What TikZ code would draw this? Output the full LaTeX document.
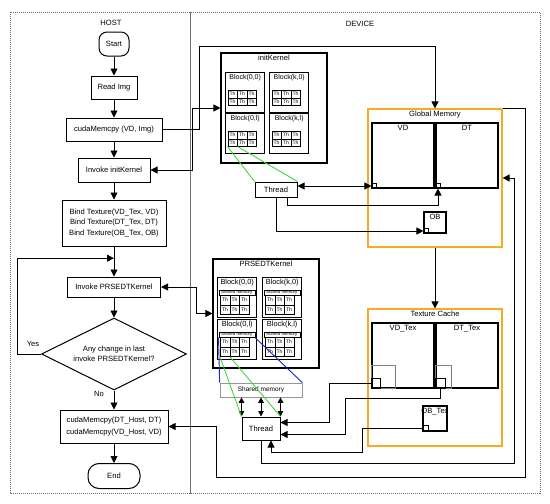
\documentclass[tikz,border=0pt]{standalone}
\usepackage{fontspec}
\setmainfont{Liberation Sans}
\usepackage{tikz}
\usetikzlibrary{arrows.meta,positioning,calc,shapes.geometric}
\definecolor{memorange}{RGB}{245,170,40}
\definecolor{thgreen}{RGB}{70,215,60}
\definecolor{shblue}{RGB}{30,40,190}
\definecolor{framegray}{RGB}{110,110,110}
\definecolor{shgray}{RGB}{150,150,150}

\tikzset{
  >={Triangle[length=7pt,width=7pt]},
  flowbox/.style={draw, line width=1pt, inner sep=0pt, align=center, fill=white},
  termbox/.style={flowbox, rounded corners=8pt},
  kernelbox/.style={draw, line width=1.1pt, inner sep=0pt},
  blockbox/.style={draw, line width=1.4pt, inner sep=0pt, minimum width=39pt, minimum height=40pt, anchor=north west},
  thcell/.style={draw, line width=0.5pt, inner sep=0pt, minimum width=9.5pt, anchor=north west, font=\fontsize{5}{5}\selectfont},
  membox/.style={draw=memorange, line width=1.2pt, inner sep=0pt},
  databox/.style={draw, line width=1.1pt, inner sep=0pt},
  portbox/.style={draw, line width=0.6pt, inner sep=0pt, anchor=south west},
  areaframe/.style={draw=framegray, dash pattern=on 1pt off 1pt, line width=0.7pt},
  toplabel/.style={label={[anchor=north,inner sep=2.5pt]north:#1}},
}

\begin{document}
\begin{tikzpicture}[x=1pt, y=-1pt, font=\fontsize{7.6}{9.5}\selectfont, line width=0.9pt]
  \useasboundingbox (0,0) rectangle (550,504);

  % host / device areas
  \draw[areaframe] (10,12) rectangle (190,493);
  \draw[areaframe] (190,12) rectangle (540,493);
  \node (hostlbl) at (111,23) {HOST};
  \node (devlbl) at (360,24) {DEVICE};

  % host flow
  \node[termbox, minimum width=30pt, minimum height=24pt] (start) at (114,44) {Start};
  \node[flowbox, minimum width=46pt, minimum height=23pt] (readimg) at (114,87.5) {Read Img};
  \node[flowbox, minimum width=96pt, minimum height=23pt] (memcpy) at (114,129.5) {cudaMemcpy (VD, Img)};
  \node[flowbox, minimum width=72pt, minimum height=24pt] (invinit) at (114,170) {Invoke initKernel};
  \node[flowbox, minimum width=104pt, minimum height=46pt, font=\fontsize{7.6}{10.5}\selectfont] (bindtex) at (114,223)
    {Bind Texture(VD\_Tex, VD)\\Bind Texture(DT\_Tex, DT)\\Bind Texture(OB\_Tex, OB)};
  \node[flowbox, minimum width=93pt, minimum height=20pt] (invprs) at (114,287) {Invoke PRSEDTKernel};
  \node[flowbox, diamond, shape aspect=2, minimum width=145pt, minimum height=72pt] (decide) at (114,354)
    {Any change in last\\invoke PRSEDTKernel?};
  \node[flowbox, minimum width=108pt, minimum height=33pt, font=\fontsize{7.6}{11.5}\selectfont] (memback) at (114,426.5)
    {cudaMemcpy(DT\_Host, DT)\\cudaMemcpy(VD\_Host, VD)};
  \node[termbox, minimum width=52pt, minimum height=25pt, rounded corners=11pt] (stop) at (114,476) {End};

  \draw[->] (start) -- (readimg);
  \draw[->] (readimg) -- (memcpy);
  \draw[->] (memcpy) -- (invinit);
  \draw[->] (invinit) -- (bindtex);
  \draw[->] (bindtex) -- (invprs);
  \draw[->] (invprs) -- (decide);
  \draw[->] (decide) -- (memback);
  \draw[->] (memback) -- (stop);
  \coordinate (loopin) at ($(bindtex.south)!0.39!(invprs.north)$);
  \draw[->] (decide.west) -- ++(-24,0) |- (loopin);
  \node (yeslbl) at (33,344) {Yes};
  \node (nolbl) at (99,394) {No};

  % initKernel
  \node[kernelbox, minimum width=106pt, minimum height=110pt, toplabel=initKernel] (initk) at (274,108) {};
  \foreach \b/\x/\y/\t in {ib00/225/72/{Block(0,0)}, ibk0/269/72/{Block(k,0)},
                          ib0l/225/113/{Block(0,l)}, ibkl/269/113/{Block(k,l)}} {
    \node[blockbox, label={[anchor=north,inner sep=2pt,font=\fontsize{7}{7}\selectfont]north:\t}] (\b) at (\x,\y) {};
    \foreach \r in {1,2} \foreach \c in {1,2,3}
      \node[thcell, minimum height=7.5pt] (\b-th\r\c) at (\x+2.5+\c*9.5-9.5, \y+18+\r*7.5-7.5) {Th};
  }
  \node[flowbox, minimum width=42pt, minimum height=15pt] (thrA) at (276,189.5) {Thread};
  \draw[thgreen] (ib0l-th21.south west) -- (thrA.north west) (ib0l-th21.south east) -- (thrA.north east);

  % global memory
  \node[membox, minimum width=134pt, minimum height=138pt, toplabel=Global Memory] (gmem) at (435,178) {};
  \node[databox, minimum width=62pt, minimum height=65pt, toplabel=VD] (vd) at (403,155.5) {};
  \node[databox, minimum width=62pt, minimum height=65pt, toplabel=DT] (dt) at (467,155.5) {};
  \node[databox, minimum width=22pt, minimum height=21pt, toplabel=OB] (ob) at (435,222.5) {};
  \node[portbox, minimum size=4.5pt] (vdport) at (vd.south west) {};
  \node[portbox, minimum size=4.5pt] (dtport) at (dt.south west) {};
  \node[portbox, minimum size=4.5pt] (obport) at (ob.south west) {};

  \draw[->] (memcpy.east) -- ++(37,0) -- ++(0,-83) -| (gmem.north);
  \draw[<->] (invinit.east) -- ++(42,0) |- (initk.west);
  \draw[<->] (vdport.west) -- (vdport.west -| thrA.east);
  \draw[->] ([xshift=11pt]thrA.south) -- ++(0,8) -| (dtport.south);
  \draw[->] (thrA.south) |- (obport.west);

  % PRSEDTKernel
  \node[kernelbox, minimum width=106pt, minimum height=109pt, toplabel=PRSEDTKernel] (prsk) at (266,313.5) {};
  \foreach \b/\x/\y/\t in {pb00/217/277/{Block(0,0)}, pbk0/262/277/{Block(k,0)},
                          pb0l/217/319/{Block(0,l)}, pbkl/262/319/{Block(k,l)}} {
    \node[blockbox, label={[anchor=north,inner sep=1.5pt,font=\fontsize{7.4}{7}\selectfont]north:\t}] (\b) at (\x,\y) {};
    \node[draw, line width=0.5pt, inner sep=0pt, minimum width=36pt, minimum height=5.5pt, anchor=north west,
          font=\fontsize{4.4}{4.5}\selectfont] (\b-sh) at (\x+1.5,\y+12.5) {Shared memory};
    \foreach \r in {1,2} \foreach \c in {1,2,3}
      \node[thcell, minimum height=9.7pt] (\b-th\r\c) at (\x+3+\c*9.5-9.5, \y+18+\r*9.7-9.7) {Th};
  }
  \draw[<->] (invprs.east) -- ++(35,0) |- (prsk.west);

  \node[draw=shgray, line width=0.7pt, inner sep=0pt, minimum width=82pt, minimum height=14pt,
        font=\fontsize{6.5}{7}\selectfont] (smem) at (261,390) {Shared memory};
  \node[flowbox, minimum width=38pt, minimum height=23pt] (thrB) at (261,428.5) {Thread};
  \foreach \a in {north west,north,north east}
    \draw[{Triangle[length=5.5pt,width=5.5pt]}-{Triangle[length=5.5pt,width=5.5pt]}] (thrB.\a) -- (thrB.\a |- smem.south);
  \draw[shblue] (pb0l-sh.south west) -- (smem.north west) (pb0l-sh.south east) -- (smem.north east);
  \draw[thgreen] (pb0l-th21.south west) -- (thrB.north west) (pb0l-th21.south east) -- (thrB.north east);

  % texture cache
  \node[membox, minimum width=134pt, minimum height=137pt, toplabel=Texture Cache] (tcache) at (435,377.5) {};
  \draw[->] (gmem.south) -- (tcache.north);
  \node[databox, minimum width=62pt, minimum height=65pt, toplabel=VD\_Tex] (vdtex) at (403,355.5) {};
  \node[databox, minimum width=62pt, minimum height=65pt, toplabel=DT\_Tex] (dttex) at (467,355.5) {};
  \draw[gray, line width=0.6pt] (vdtex.south west) rectangle ++(24,-23);
  \draw[gray, line width=0.6pt] (dttex.south west) rectangle ++(16,-23);
  \node[databox, minimum width=24pt, minimum height=25pt, toplabel=OB\_Tex] (obtex) at (435,418.5) {};
  \node[portbox, minimum width=9pt, minimum height=10pt] (vdtport) at (vdtex.south west) {};
  \node[portbox, minimum width=10pt, minimum height=10pt] (dttport) at (dttex.south west) {};
  \node[portbox, minimum size=6pt] (obtport) at (obtex.south west) {};

  \draw[->] (vdtport.west) -- ++(-42,0) |- ([yshift=6pt]thrB.east);
  \draw[->] (dttport.south) |- ++(-95,10) |- ([yshift=-6pt]thrB.east);
  \draw[->] (obtport.west) -- ++(-60,0) -- ++(0,24) -| ([xshift=10pt]thrB.south);
  \draw[->] (thrB.south) -- ++(0,23) -- ++(253,0) |- (gmem.east);
  \draw[->] (gmem.north east) -- ++(23,0) |- ++(-309,369) |- (memback.east);
\end{tikzpicture}
\end{document}
